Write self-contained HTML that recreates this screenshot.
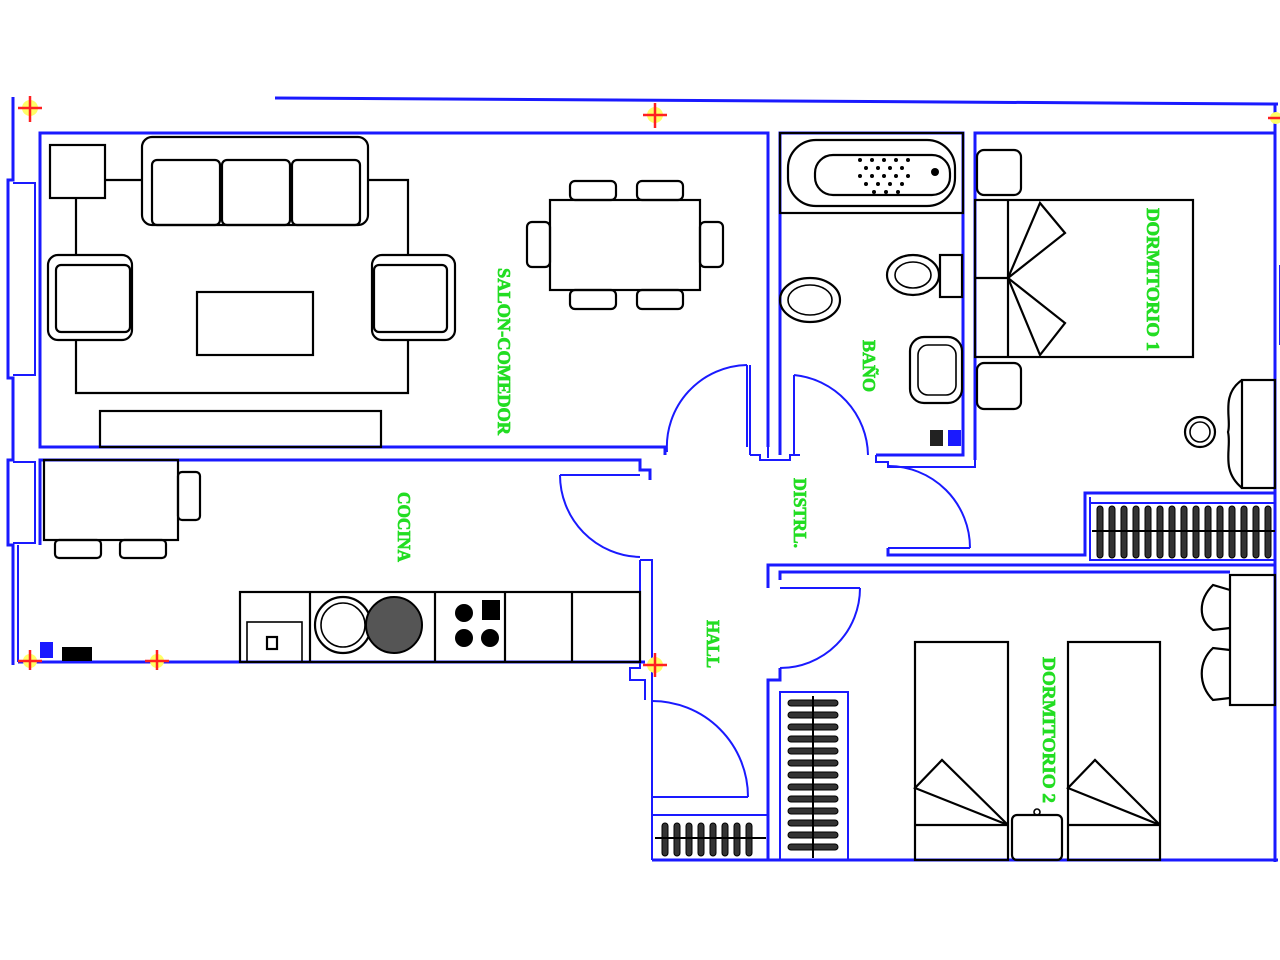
<!DOCTYPE html>
<html><head><meta charset="utf-8"><style>
html,body{margin:0;padding:0;background:#fff;}
svg{display:block;}
.w{stroke:#1a1aff;stroke-width:3;fill:none;}
.w2{stroke:#1a1aff;stroke-width:2;fill:none;}
.k{stroke:#000;stroke-width:2.2;fill:none;}
.k1{stroke:#000;stroke-width:1.6;fill:none;}
.t{font-family:"Liberation Serif",serif;font-weight:bold;font-size:18px;fill:#22dd22;stroke:#22dd22;stroke-width:0.7;}
.h{fill:#333;stroke:#000;stroke-width:1;}
</style></head><body>
<svg width="1280" height="960" viewBox="0 0 1280 960" xmlns="http://www.w3.org/2000/svg">
<line x1="275" y1="98" x2="1278" y2="104" class="w"/>
<polyline class="w" points="13,97 13,180 8,180 8,378 13,378 13,460 8,460 8,545 13,545 13,665"/>
<polyline class="w2" points="13,183 35,183 35,375 13,375"/>
<polyline class="w2" points="13,462 35,462 35,543 13,543"/>
<line x1="40" y1="185" x2="40" y2="375" class="w"/>
<line x1="40" y1="462" x2="40" y2="545" class="w"/>
<polyline class="w" points="40,375 40,133 768,133 768,447"/>
<polyline class="w" points="40,375 40,447 665,447 665,455"/>
<line x1="750" y1="365" x2="750" y2="455" class="w2"/>
<line x1="768" y1="447" x2="768" y2="458" class="w2"/>
<polyline class="w2" points="750,455 760,455 760,460 790,460 790,455 800,455"/>
<polyline class="w" points="780,455 780,133 963,133 963,455 876,455"/>
<rect x="780" y="133" width="183" height="80" class="k"/>
<polyline class="w" points="975,455 975,133 1275,133"/>
<line x1="975" y1="455" x2="975" y2="460" class="w"/>
<polyline class="w2" points="876,455 876,462 888,462 888,467 975,467 975,455"/>
<line x1="1275" y1="104" x2="1275" y2="862" class="w"/>
<line x1="1280" y1="265" x2="1280" y2="345" class="w2"/>
<polyline class="w" points="888,548 888,555 1085,555 1085,493 1275,493"/>
<polyline class="w2" points="1090,497 1090,560 1275,560"/>
<line x1="1090" y1="503" x2="1275" y2="503" class="w2"/>
<polyline class="w" points="40,545 40,460 640,460 640,470 650,470 650,480"/>
<polyline class="w" points="18,662 645,662"/>
<polyline class="w2" points="640,560 652,560 652,860"/>
<polyline class="w2" points="640,560 640,668 630,668 630,680 645,680 645,700"/>
<polyline class="w2" points="18,545 18,662"/>
<polyline class="w" points="768,860 768,680 780,680 780,668"/>
<polyline class="w" points="768,588 768,565 1275,565"/>
<polyline class="w" points="780,580 780,572 1230,572"/>
<line x1="652" y1="860" x2="1278" y2="860" class="w"/>
<polyline class="w2" points="652,815 768,815"/>
<polyline class="w2" points="780,860 780,692 848,692 848,860"/>
<line x1="747" y1="365" x2="747" y2="447" class="w2"/>
<path d="M747,365 A82,82 0 0 0 667,452" class="w2"/>
<line x1="794" y1="375" x2="794" y2="455" class="w2"/>
<path d="M794,375 A82,82 0 0 1 868,455" class="w2"/>
<line x1="560" y1="475" x2="640" y2="475" class="w2"/>
<path d="M560,475 A82,82 0 0 0 640,557" class="w2"/>
<line x1="888" y1="548" x2="970" y2="548" class="w2"/>
<path d="M970,548 A82,82 0 0 0 888,466" class="w2"/>
<line x1="780" y1="588" x2="860" y2="588" class="w2"/>
<path d="M860,588 A80,80 0 0 1 780,668" class="w2"/>
<line x1="652" y1="797" x2="748" y2="797" class="w2"/>
<path d="M748,797 A96,96 0 0 0 652,701" class="w2"/>
<g stroke="#ff2020" stroke-width="2.5">
<circle cx="30" cy="108" r="8" fill="#ffff66" stroke="none"/><line x1="18" y1="108" x2="42" y2="108"/><line x1="30" y1="96" x2="30" y2="122"/>
<circle cx="655" cy="115" r="8" fill="#ffff66" stroke="none"/><line x1="643" y1="115" x2="667" y2="115"/><line x1="655" y1="103" x2="655" y2="128"/>
<circle cx="1276" cy="118" r="6" fill="#ffff66" stroke="none"/><line x1="1268" y1="118" x2="1280" y2="118"/>
<circle cx="30" cy="661" r="7" fill="#ffff66" stroke="none"/><line x1="18" y1="661" x2="42" y2="661"/><line x1="30" y1="650" x2="30" y2="670"/>
<circle cx="157" cy="661" r="7" fill="#ffff66" stroke="none"/><line x1="145" y1="661" x2="169" y2="661"/><line x1="157" y1="650" x2="157" y2="670"/>
<circle cx="655" cy="665" r="8" fill="#ffff66" stroke="none"/><line x1="643" y1="665" x2="667" y2="665"/><line x1="655" y1="653" x2="655" y2="677"/>
</g>
<rect x="40" y="642" width="13" height="16" fill="#1a1aff"/>
<rect x="62" y="647" width="30" height="14" fill="#000"/>
<rect x="930" y="430" width="13" height="16" fill="#222"/>
<rect x="948" y="430" width="13" height="16" fill="#1a1aff"/>
<rect x="50" y="145" width="55" height="53" class="k"/>
<polyline class="k" points="105,180 142,180"/>
<polyline class="k" points="368,180 408,180 408,393 76,393 76,198"/>
<rect x="142" y="137" width="226" height="88" rx="10" class="k"/>
<rect x="152" y="160" width="68" height="65" rx="5" class="k"/>
<rect x="222" y="160" width="68" height="65" rx="5" class="k"/>
<rect x="292" y="160" width="68" height="65" rx="5" class="k"/>
<rect x="48" y="255" width="84" height="85" rx="10" class="k" style="fill:#fff"/>
<rect x="56" y="265" width="74" height="67" rx="5" class="k"/>
<rect x="372" y="255" width="83" height="85" rx="10" class="k" style="fill:#fff"/>
<rect x="374" y="265" width="73" height="67" rx="5" class="k"/>
<rect x="197" y="292" width="116" height="63" class="k"/>
<rect x="100" y="411" width="281" height="36" class="k"/>
<rect x="550" y="200" width="150" height="90" class="k"/>
<rect x="570" y="181" width="46" height="19" rx="5" class="k"/>
<rect x="637" y="181" width="46" height="19" rx="5" class="k"/>
<rect x="570" y="290" width="46" height="19" rx="5" class="k"/>
<rect x="637" y="290" width="46" height="19" rx="5" class="k"/>
<rect x="527" y="222" width="23" height="45" rx="5" class="k"/>
<rect x="700" y="222" width="23" height="45" rx="5" class="k"/>
<text class="t" transform="translate(498,268) rotate(90)" textLength="167" lengthAdjust="spacingAndGlyphs">SALON-COMEDOR</text>
<rect x="788" y="140" width="167" height="66" rx="28" class="k"/>
<rect x="815" y="155" width="135" height="40" rx="18" class="k"/>
<g fill="#000">
<circle cx="860" cy="160" r="2"/><circle cx="872" cy="160" r="2"/><circle cx="884" cy="160" r="2"/><circle cx="896" cy="160" r="2"/><circle cx="908" cy="160" r="2"/>
<circle cx="866" cy="168" r="2"/><circle cx="878" cy="168" r="2"/><circle cx="890" cy="168" r="2"/><circle cx="902" cy="168" r="2"/>
<circle cx="860" cy="176" r="2"/><circle cx="872" cy="176" r="2"/><circle cx="884" cy="176" r="2"/><circle cx="896" cy="176" r="2"/><circle cx="908" cy="176" r="2"/>
<circle cx="866" cy="184" r="2"/><circle cx="878" cy="184" r="2"/><circle cx="890" cy="184" r="2"/><circle cx="902" cy="184" r="2"/>
<circle cx="874" cy="192" r="2"/><circle cx="886" cy="192" r="2"/><circle cx="898" cy="192" r="2"/>
<circle cx="935" cy="172" r="4"/>
</g>
<ellipse cx="913" cy="275" rx="26" ry="20" class="k"/>
<ellipse cx="913" cy="275" rx="18" ry="13" class="k1"/>
<rect x="940" y="255" width="22" height="42" class="k"/>
<ellipse cx="810" cy="300" rx="30" ry="22" class="k"/>
<ellipse cx="810" cy="300" rx="22" ry="15" class="k1"/>
<rect x="910" y="337" width="52" height="66" rx="14" class="k"/>
<rect x="918" y="345" width="38" height="50" rx="10" class="k1"/>
<text class="t" transform="translate(863,340) rotate(90)" textLength="52" lengthAdjust="spacingAndGlyphs">BAÑO</text>
<rect x="977" y="150" width="44" height="45" rx="7" class="k"/>
<rect x="977" y="363" width="44" height="46" rx="7" class="k"/>
<rect x="975" y="200" width="218" height="157" class="k"/>
<line x1="1008" y1="200" x2="1008" y2="357" class="k"/>
<line x1="975" y1="278" x2="1008" y2="278" class="k"/>
<polyline class="k" points="1008,278 1040,203 1065,233 1008,278 1065,323 1040,355 1008,278"/>
<text class="t" transform="translate(1147,208) rotate(90)" textLength="143" lengthAdjust="spacingAndGlyphs">DORMITORIO 1</text>
<rect x="1242" y="380" width="33" height="108" class="k"/>
<path d="M1242,380 C1220,395 1232,420 1228,432 C1232,448 1220,470 1242,488" class="k"/>
<circle cx="1200" cy="432" r="15" class="k"/>
<circle cx="1200" cy="432" r="10" class="k1"/>
<g class="h">
<rect x="1097" y="506" width="6" height="52" rx="3"/><rect x="1109" y="506" width="6" height="52" rx="3"/><rect x="1121" y="506" width="6" height="52" rx="3"/><rect x="1133" y="506" width="6" height="52" rx="3"/><rect x="1145" y="506" width="6" height="52" rx="3"/><rect x="1157" y="506" width="6" height="52" rx="3"/><rect x="1169" y="506" width="6" height="52" rx="3"/><rect x="1181" y="506" width="6" height="52" rx="3"/><rect x="1193" y="506" width="6" height="52" rx="3"/><rect x="1205" y="506" width="6" height="52" rx="3"/><rect x="1217" y="506" width="6" height="52" rx="3"/><rect x="1229" y="506" width="6" height="52" rx="3"/><rect x="1241" y="506" width="6" height="52" rx="3"/><rect x="1253" y="506" width="6" height="52" rx="3"/><rect x="1265" y="506" width="6" height="52" rx="3"/>
</g>
<line x1="1092" y1="531" x2="1275" y2="531" stroke="#000" stroke-width="2"/>
<text class="t" transform="translate(794,478) rotate(90)" textLength="70" lengthAdjust="spacingAndGlyphs">DISTRL.</text>
<rect x="44" y="460" width="134" height="80" class="k"/>
<rect x="178" y="472" width="22" height="48" rx="4" class="k"/>
<rect x="55" y="540" width="46" height="18" rx="4" class="k"/>
<rect x="120" y="540" width="46" height="18" rx="4" class="k"/>
<text class="t" transform="translate(398,492) rotate(90)" textLength="70" lengthAdjust="spacingAndGlyphs">COCINA</text>
<rect x="240" y="592" width="400" height="70" class="k"/>
<line x1="310" y1="592" x2="310" y2="662" class="k"/>
<line x1="435" y1="592" x2="435" y2="662" class="k"/>
<line x1="505" y1="592" x2="505" y2="662" class="k"/>
<line x1="572" y1="592" x2="572" y2="662" class="k"/>
<rect x="247" y="622" width="55" height="40" class="k1"/>
<rect x="267" y="637" width="10" height="12" class="k"/>
<circle cx="343" cy="625" r="28" class="k"/>
<circle cx="343" cy="625" r="22" class="k1"/>
<circle cx="394" cy="625" r="28" fill="#555" stroke="#000" stroke-width="2"/>
<circle cx="464" cy="613" r="9" fill="#000"/><circle cx="464" cy="638" r="9" fill="#000"/><circle cx="490" cy="638" r="9" fill="#000"/>
<rect x="482" y="600" width="18" height="20" fill="#000"/>
<text class="t" transform="translate(707,620) rotate(90)" textLength="48" lengthAdjust="spacingAndGlyphs">HALL</text>
<g class="h">
<rect x="662" y="823" width="6" height="33" rx="3"/><rect x="674" y="823" width="6" height="33" rx="3"/><rect x="686" y="823" width="6" height="33" rx="3"/><rect x="698" y="823" width="6" height="33" rx="3"/><rect x="710" y="823" width="6" height="33" rx="3"/><rect x="722" y="823" width="6" height="33" rx="3"/><rect x="734" y="823" width="6" height="33" rx="3"/><rect x="746" y="823" width="6" height="33" rx="3"/>
</g>
<line x1="655" y1="838" x2="766" y2="838" stroke="#000" stroke-width="2"/>
<g class="h">
<rect x="788" y="700" width="50" height="6" rx="3"/><rect x="788" y="712" width="50" height="6" rx="3"/><rect x="788" y="724" width="50" height="6" rx="3"/><rect x="788" y="736" width="50" height="6" rx="3"/><rect x="788" y="748" width="50" height="6" rx="3"/><rect x="788" y="760" width="50" height="6" rx="3"/><rect x="788" y="772" width="50" height="6" rx="3"/><rect x="788" y="784" width="50" height="6" rx="3"/><rect x="788" y="796" width="50" height="6" rx="3"/><rect x="788" y="808" width="50" height="6" rx="3"/><rect x="788" y="820" width="50" height="6" rx="3"/><rect x="788" y="832" width="50" height="6" rx="3"/><rect x="788" y="844" width="50" height="6" rx="3"/>
</g>
<line x1="813" y1="696" x2="813" y2="858" stroke="#000" stroke-width="2"/>
<rect x="915" y="642" width="93" height="218" class="k"/>
<rect x="1068" y="642" width="92" height="218" class="k"/>
<line x1="915" y1="825" x2="1008" y2="825" class="k"/>
<line x1="1068" y1="825" x2="1160" y2="825" class="k"/>
<polyline class="k" points="1008,825 915,788 942,760 1008,825"/>
<polyline class="k" points="1160,825 1068,788 1095,760 1160,825"/>
<rect x="1012" y="815" width="50" height="45" rx="5" class="k"/>
<circle cx="1037" cy="812" r="3" class="k1"/>
<text class="t" transform="translate(1043,657) rotate(90)" textLength="146" lengthAdjust="spacingAndGlyphs">DORMITORIO 2</text>
<rect x="1230" y="575" width="45" height="130" class="k"/>
<path d="M1230,590 L1213,585 C1198,600 1198,620 1213,630 L1230,628" class="k"/>
<path d="M1230,650 L1213,648 C1198,662 1198,685 1213,700 L1230,698" class="k"/>
</svg>
</body></html>
